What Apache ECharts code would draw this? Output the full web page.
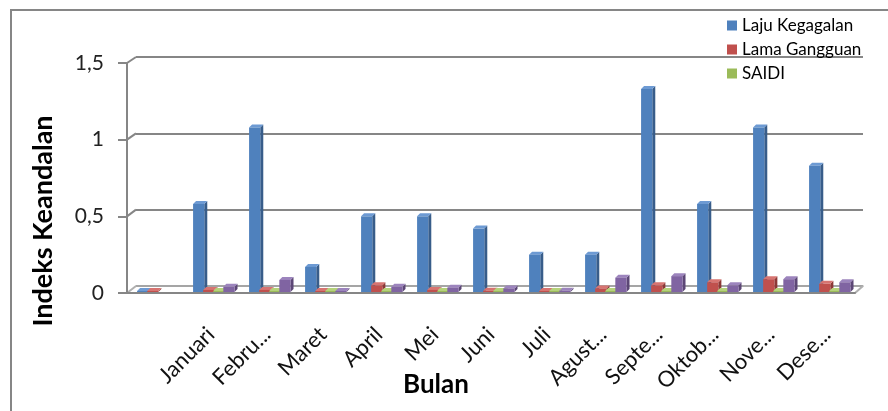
<!DOCTYPE html>
<html>
<head>
<meta charset="utf-8">
<script src="https://cdn.jsdelivr.net/npm/echarts@6/dist/echarts.min.js"></script>
<style>
  html, body { margin: 0; padding: 0; background: #fff; }
  #chart { width: 888px; height: 411px; }
</style>
</head>
<body>
<div id="chart"></div>
<script>
var chart = echarts.init(document.getElementById('chart'));

// data
var months = ['', 'Januari', 'Febru...', 'Maret', 'April', 'Mei', 'Juni', 'Juli',
    'Agust...', 'Septe...', 'Oktob...', 'Nove...', 'Dese...'];
var lajuKegagalan = [0.005, 0.58, 1.08, 0.17, 0.5, 0.5, 0.42, 0.25, 0.25, 1.33, 0.58, 1.08, 0.83];
var lamaGangguan  = [0.005, 0.02, 0.02, 0.005, 0.05, 0.02, 0.015, 0.01, 0.03, 0.05, 0.07, 0.09, 0.06];
var saidi         = [null, 0.004, 0.004, 0.003, 0.004, 0.004, 0.003, 0.003, 0.004, 0.004, 0.004, 0.004, 0.004];
var saifi         = [null, 0.04, 0.085, 0.01, 0.04, 0.035, 0.03, 0.015, 0.1, 0.11, 0.05, 0.09, 0.07];
var yTicks = [0, 0.5, 1, 1.5];

var gridColor = '#868686';
var font = 'Lato';

// bar colours: front, side, top
var colors = [
    ['#4f81bd', '#385d8a', '#6d9ad3'],
    ['#c0504d', '#8c3836', '#d77471'],
    ['#9bbb59', '#71893f', '#b5d27a'],
    ['#8064a2', '#5c4776', '#9c84bd']
];

function bar3d(idx) {
    var c = colors[idx];
    return function (params, api) {
        var val = api.value(1);
        if (val == null || isNaN(val)) return null;
        var cat = api.value(0);
        var base = api.coord([cat, 0]);
        var top = api.coord([cat, val]);
        var band = api.size([1, 0])[0];
        var w = band * 0.2;
        var d = 3;
        var x0 = base[0] - band * 0.32 + idx * band * 0.18;
        var x1 = x0 + w;
        var y0 = base[1] - 1;
        var yt = Math.min(top[1], y0 - 1);
        return {
            type: 'group',
            children: [
                { type: 'polygon', shape: { points: [[x1, yt], [x1 + d, yt - d], [x1 + d, y0 - d], [x1, y0]] },
                  style: { fill: c[1] } },
                { type: 'polygon', shape: { points: [[x0, yt], [x0 + d, yt - d], [x1 + d, yt - d], [x1, yt]] },
                  style: { fill: c[2] } },
                { type: 'rect', shape: { x: x0, y: yt, width: w, height: y0 - yt },
                  style: { fill: c[0] } }
            ]
        };
    };
}

function pairs(arr) {
    return arr.map(function (v, i) { return [i, v]; });
}

var names = ['Laju Kegagalan', 'Lama Gangguan', 'SAIDI', 'SAIFI'];
var seriesData = [lajuKegagalan, lamaGangguan, saidi, saifi];

var series = seriesData.map(function (arr, i) {
    return {
        type: 'custom',
        name: names[i],
        xAxisIndex: 0,
        yAxisIndex: 0,
        renderItem: bar3d(i),
        itemStyle: { color: colors[i][0] },
        encode: { x: 0, y: 1 },
        data: pairs(arr),
        z: 5
    };
});

var option = {
    animation: false,
    backgroundColor: '#fff',
    textStyle: { fontFamily: font },
    legend: {
        data: names.slice(0, 3),
        orient: 'vertical',
        left: 722,
        top: 12,
        icon: 'rect',
        itemWidth: 10,
        itemHeight: 10,
        itemGap: 7,
        textStyle: { fontFamily: font, fontSize: 17, color: '#000' }
    },
    grid: [
        { left: 127, right: 33, top: 63, bottom: 118 },
        { left: 136, right: 25, top: 57, bottom: 125 }
    ],
    xAxis: [{
        type: 'category',
        gridIndex: 0,
        data: months,
        axisLine: { lineStyle: { color: gridColor, width: 2 } },
        axisTick: { show: false },
        axisLabel: { rotate: 45, margin: 38, fontSize: 22, color: '#111', fontFamily: font, interval: 0 }
    }, {
        type: 'category',
        gridIndex: 1,
        data: months,
        axisLine: { lineStyle: { color: '#b0b0b0', width: 1.5 } },
        axisTick: { show: false },
        axisLabel: { show: false }
    }],
    yAxis: [{
        type: 'value',
        gridIndex: 0,
        min: 0,
        max: 1.5,
        interval: 0.5,
        axisLine: { show: true, lineStyle: { color: gridColor, width: 2 } },
        axisTick: { show: true, length: 9, lineStyle: { color: gridColor, width: 2 } },
        splitLine: { show: false },
        axisLabel: {
            margin: 23, fontSize: 21, color: '#222', fontFamily: font,
            formatter: function (v) { return String(v).replace('.', ','); }
        }
    }, {
        type: 'value',
        gridIndex: 1,
        min: 0,
        max: 1.5,
        interval: 0.5,
        axisLine: { show: false },
        axisTick: { show: false },
        axisLabel: { show: false },
        splitLine: { lineStyle: { color: gridColor, width: 2 } }
    }],
    series: series
};

chart.setOption(option);

// frame, titles and 3D corner joins between front axis and back wall
var graphics = [
    { type: 'rect', shape: { x: 11, y: 10, width: 900, height: 420 },
      style: { fill: 'none', stroke: gridColor, lineWidth: 2 }, z: 0, silent: true },
    { type: 'text', x: 43, y: 221, rotation: Math.PI / 2,
      style: { text: 'Indeks Keandalan', font: 'bold 27px ' + font, fill: '#000',
               textAlign: 'center', textVerticalAlign: 'middle' } },
    { type: 'text', x: 436, y: 385,
      style: { text: 'Bulan', font: 'bold 26px ' + font, fill: '#000',
               textAlign: 'center', textVerticalAlign: 'middle' } }
];
yTicks.forEach(function (v) {
    var y1 = chart.convertToPixel({ yAxisIndex: 0 }, v);
    var y2 = chart.convertToPixel({ yAxisIndex: 1 }, v);
    graphics.push({ type: 'line', shape: { x1: 127, y1: y1, x2: 136, y2: y2 },
        style: { stroke: v === 0 ? '#b0b0b0' : gridColor, lineWidth: 2 }, silent: true });
});
var yb1 = chart.convertToPixel({ yAxisIndex: 0 }, 0);
var yb2 = chart.convertToPixel({ yAxisIndex: 1 }, 0);
graphics.push({ type: 'line', shape: { x1: 888 - 33, y1: yb1, x2: 888 - 25, y2: yb2 },
    style: { stroke: '#b0b0b0', lineWidth: 2 }, silent: true });

chart.setOption({ graphic: graphics });
</script>
</body>
</html>
